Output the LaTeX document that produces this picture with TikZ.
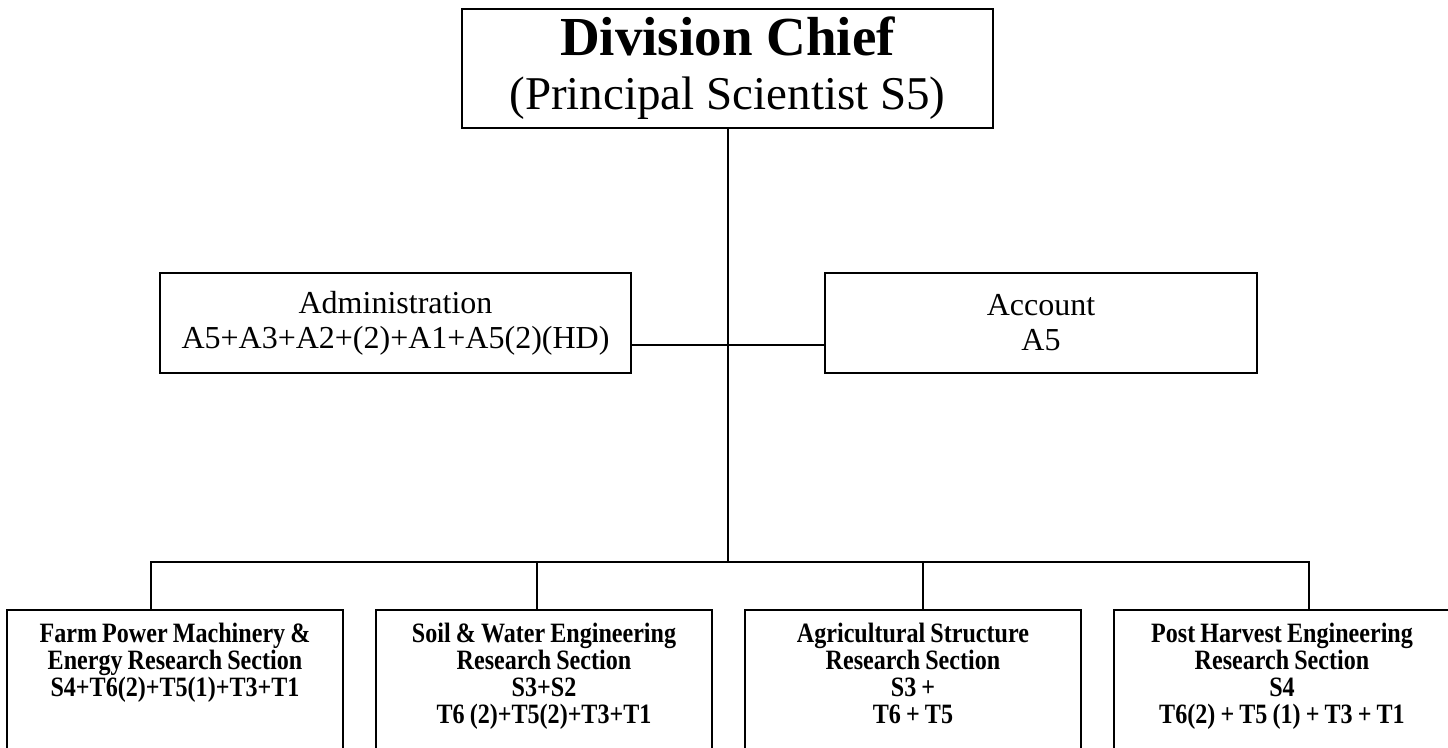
\documentclass[tikz,border=0pt]{standalone}
\usepackage{fontspec}
\setmainfont{Liberation Serif}
\newfontfamily\narrowserif{Liberation Serif}[FakeStretch=0.86, WordSpace=0.85]
\usetikzlibrary{positioning}

\begin{document}
\begin{tikzpicture}[x=0.5pt, y=-0.5pt, line width=1pt,
    chief node/.style={draw, align=center, minimum width=265.5pt, minimum height=59.5pt,
                       font=\fontsize{21}{27}\selectfont},
    staff node/.style={draw, align=center, minimum height=50pt,
                       font=\fontsize{16}{17.5}\selectfont},
    section node/.style={draw, align=flush center, anchor=north, text width=162pt, inner sep=3pt,
                         text height=13.5pt, text depth=90pt,
                         font=\narrowserif\fontsize{14}{13.5}\selectfont\bfseries}]

  \useasboundingbox (0,0) rectangle (1448,748);
  \clip (0,0) rectangle (1448,748);

  \node[chief node] (chief) at (727.5,68.5) {{\fontsize{27.5}{27}\selectfont\bfseries Division Chief}\\{\fontsize{23.5}{27}\selectfont (Principal Scientist S5)}};
  \node[staff node, minimum width=235.5pt] (adm) at (395.5,323) {Administration\\A5+A3+A2+(2)+A1+A5(2)(HD)};
  \node[staff node, minimum width=216pt] (acc) at (1041,323) {Account\\A5};

  \node[section node] (fpm) at (175,609) {Farm Power Machinery \&\\Energy Research Section\\S4+T6(2)+T5(1)+T3+T1};
  \node[section node, right=15.5pt of fpm] (swe) {Soil \& Water Engineering\\Research Section\\S3+S2\\T6 (2)+T5(2)+T3+T1};
  \node[section node, right=15.5pt of swe] (ags) {Agricultural Structure\\Research Section\\S3 +\\T6 + T5};
  \node[section node, right=15.5pt of ags] (phe) {Post Harvest Engineering\\Research Section\\S4\\T6(2) + T5 (1) + T3 + T1};

  \coordinate (j) at (chief.south |- 0,562);

  \draw (chief) -- (j);
  \draw ([yshift=-11pt]adm.east) -- ([yshift=-11pt]acc.west);
  \draw ([xshift=-12pt]fpm.north) |- (j) -| ([xshift=13.5pt]phe.north);
  \draw ([xshift=-3.5pt]swe.north) -- ([xshift=-3.5pt]swe.north |- j);
  \draw ([xshift=5pt]ags.north) -- ([xshift=5pt]ags.north |- j);

\end{tikzpicture}
\end{document}
